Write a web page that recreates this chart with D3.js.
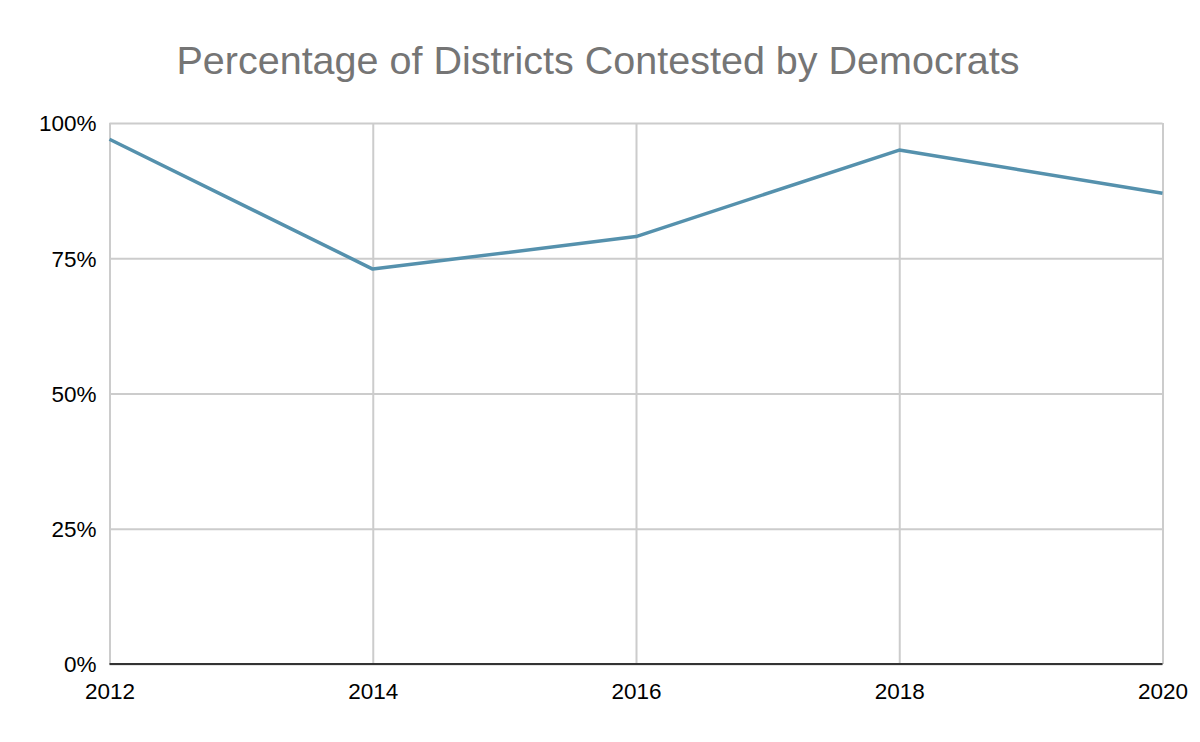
<!DOCTYPE html>
<html><head><meta charset="utf-8">
<script src="https://cdn.jsdelivr.net/npm/d3@7"></script>
<style>body{margin:0;background:#fff;} svg{display:block;font-family:"Liberation Sans",Arial,sans-serif;}</style>
</head><body>
<svg id="c" width="1200" height="742"></svg>
<script>
const years = [2012, 2014, 2016, 2018, 2020];
const pctContested = [97, 73, 79, 95, 87];
const yTicks = [0, 25, 50, 75, 100];
const title = "Percentage of Districts Contested by Democrats";

const svg = d3.select("#c");
const m = {left: 109.5, right: 1162.5, top: 123, bottom: 664};
const x = d3.scaleLinear().domain([2012, 2020]).range([m.left, m.right]);
const y = d3.scaleLinear().domain([0, 100]).range([m.bottom, m.top]);

svg.append("rect").attr("width",1200).attr("height",742).attr("fill","#fff");

svg.append("text").attr("x", 598).attr("y", 74).attr("text-anchor","middle")
  .attr("font-size", 39.5).attr("fill","#757575").text(title);

// gridlines
const gy = svg.append("g").attr("transform",`translate(${m.left},0)`)
  .call(d3.axisLeft(y).tickValues(yTicks).tickSize(-(m.right-m.left)).tickFormat(d=>d+"%"));
gy.select(".domain").remove();
gy.selectAll(".tick line").attr("stroke","#cccccc").attr("stroke-width",2);
gy.selectAll(".tick text").attr("font-size",22.5).attr("fill","#000").attr("x",-13).attr("dy","0.35em")
  .attr("font-family","'Liberation Sans',Arial,sans-serif");

const gx = svg.append("g").attr("transform",`translate(0,${m.bottom})`)
  .call(d3.axisBottom(x).tickValues(years).tickSize(-(m.bottom-m.top)).tickFormat(d3.format("d")));
gx.select(".domain").remove();
gx.selectAll(".tick line").attr("stroke","#cccccc").attr("stroke-width",2);
gx.selectAll(".tick text").attr("font-size",22.5).attr("fill","#000").attr("y",19).attr("dy","0.71em")
  .attr("font-family","'Liberation Sans',Arial,sans-serif");

// baseline
svg.append("line").attr("x1",m.left).attr("x2",m.right).attr("y1",y(0)).attr("y2",y(0))
  .attr("stroke","#333333").attr("stroke-width",2);

const line = d3.line().x((d,i)=>x(years[i])).y(d=>y(d));
svg.append("path").datum(pctContested).attr("d",line).attr("fill","none")
  .attr("stroke","#5591ad").attr("stroke-width",3.5).attr("stroke-linejoin","round");
</script>
</body></html>
